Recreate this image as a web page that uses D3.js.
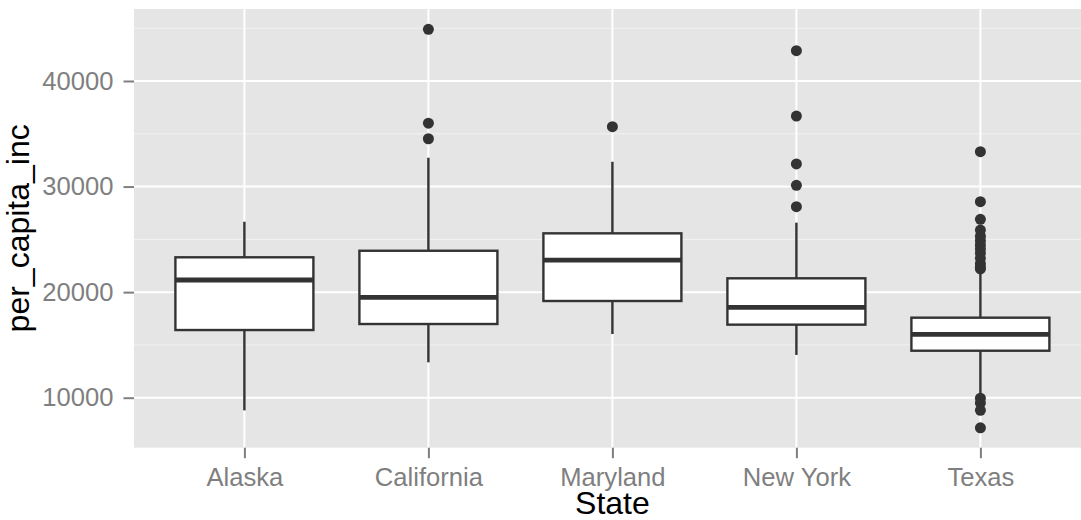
<!DOCTYPE html>
<html>
<head>
<meta charset="utf-8">
<script src="https://cdn.jsdelivr.net/npm/d3@7"></script>
<style>
    html, body { margin: 0; padding: 0; background: #fff; }
    svg { display: block; font-family: "Liberation Sans", Arial, Helvetica, sans-serif; }
</style>
</head>
<body>
<svg id="chart" width="1081" height="520"></svg>
<script>
const states = ['Alaska', 'California', 'Maryland', 'New York', 'Texas'];

// box stats
const lowerWhisker = [8800, 13350, 16030, 14050, 10300];
const q1 = [16410, 16980, 19160, 16920, 14450];
const median = [21150, 19500, 23040, 18560, 16000];
const q3 = [23300, 23920, 25570, 21310, 17580];
const upperWhisker = [26670, 32730, 32350, 26580, 21780];

const outliersAlaska = [];
const outliersCalifornia = [44900, 36000, 34530];
const outliersMaryland = [35670];
const outliersNewYork = [42870, 36680, 32140, 30120, 28090];
const outliersTexas = [33300, 28570, 26900, 25880, 25300, 24900, 24470, 24100, 23700, 23200,
    22700, 22350, 22200, 9950, 9500, 8800, 7150];
const outliers = [outliersAlaska, outliersCalifornia, outliersMaryland, outliersNewYork, outliersTexas];

const majorTicks = [10000, 20000, 30000, 40000];
const minorTicks = [15000, 25000, 35000, 45000];

const panel = { left: 134, top: 9, bottom: 447.7, right: 1090.8 };

const svg = d3.select('#chart');

const x = d3.scalePoint()
    .domain(states)
    .range([panel.left, panel.right])
    .padding(0.6);

const y = d3.scaleLinear()
    .domain([5264, 46820])
    .range([panel.bottom, panel.top]);

const boxWidth = x.step() * 0.75;
const lineColor = '#333';

// panel background
svg.append('rect')
    .attr('x', panel.left)
    .attr('y', panel.top)
    .attr('width', panel.right - panel.left)
    .attr('height', panel.bottom - panel.top)
    .attr('fill', '#e5e5e5');

const grid = svg.append('g');

grid.selectAll('line.minor')
    .data(minorTicks)
    .enter().append('line')
    .attr('class', 'minor')
    .attr('x1', panel.left)
    .attr('x2', panel.right)
    .attr('y1', d => y(d))
    .attr('y2', d => y(d))
    .attr('stroke', '#f2f2f2')
    .attr('stroke-width', 1);

grid.selectAll('line.major-y')
    .data(majorTicks)
    .enter().append('line')
    .attr('class', 'major-y')
    .attr('x1', panel.left)
    .attr('x2', panel.right)
    .attr('y1', d => y(d))
    .attr('y2', d => y(d))
    .attr('stroke', '#fff')
    .attr('stroke-width', 2);

grid.selectAll('line.major-x')
    .data(states)
    .enter().append('line')
    .attr('class', 'major-x')
    .attr('x1', d => x(d))
    .attr('x2', d => x(d))
    .attr('y1', panel.top)
    .attr('y2', panel.bottom)
    .attr('stroke', '#fff')
    .attr('stroke-width', 2);

// boxes
const boxes = svg.append('g')
    .selectAll('g')
    .data(states)
    .enter().append('g');

boxes.append('line')
    .attr('x1', d => x(d))
    .attr('x2', d => x(d))
    .attr('y1', (d, i) => y(upperWhisker[i]))
    .attr('y2', (d, i) => y(q3[i]))
    .attr('stroke', lineColor)
    .attr('stroke-width', 2.4);

boxes.append('line')
    .attr('x1', d => x(d))
    .attr('x2', d => x(d))
    .attr('y1', (d, i) => y(q1[i]))
    .attr('y2', (d, i) => y(lowerWhisker[i]))
    .attr('stroke', lineColor)
    .attr('stroke-width', 2.4);

boxes.append('rect')
    .attr('x', d => x(d) - boxWidth / 2)
    .attr('y', (d, i) => y(q3[i]))
    .attr('width', boxWidth)
    .attr('height', (d, i) => y(q1[i]) - y(q3[i]))
    .attr('fill', '#fff')
    .attr('stroke', lineColor)
    .attr('stroke-width', 2.4);

boxes.append('line')
    .attr('x1', d => x(d) - boxWidth / 2)
    .attr('x2', d => x(d) + boxWidth / 2)
    .attr('y1', (d, i) => y(median[i]))
    .attr('y2', (d, i) => y(median[i]))
    .attr('stroke', lineColor)
    .attr('stroke-width', 4.8);

boxes.each(function (d, i) {
    d3.select(this).selectAll('circle')
        .data(outliers[i])
        .enter().append('circle')
        .attr('cx', x(d))
        .attr('cy', v => y(v))
        .attr('r', 5.5)
        .attr('fill', lineColor);
});

// axes
const yAxis = svg.append('g')
    .attr('transform', `translate(${panel.left},0)`)
    .call(d3.axisLeft(y).tickValues(majorTicks).tickSize(10.5).tickPadding(10).tickFormat(d3.format('d')));

const xAxis = svg.append('g')
    .attr('transform', `translate(0,${panel.bottom})`)
    .call(d3.axisBottom(x).tickSize(10.5).tickPadding(9.5));

[yAxis, xAxis].forEach(ax => {
    ax.select('.domain').remove();
    ax.selectAll('.tick line').attr('stroke', '#7f7f7f').attr('stroke-width', 2);
    ax.selectAll('.tick text')
        .attr('fill', '#7f7f7f')
        .style('font-size', '25.6px')
        .style('font-family', '"Liberation Sans", Arial, Helvetica, sans-serif');
});

// axis titles
svg.append('text')
    .attr('x', (panel.left + panel.right) / 2)
    .attr('y', 514)
    .attr('text-anchor', 'middle')
    .style('font-size', '32px')
    .attr('fill', '#000')
    .text('State');

svg.append('text')
    .attr('transform', `translate(29,${(panel.top + panel.bottom) / 2}) rotate(-90)`)
    .attr('text-anchor', 'middle')
    .style('font-size', '32px')
    .attr('fill', '#000')
    .text('per_capita_inc');
</script>
</body>
</html>
